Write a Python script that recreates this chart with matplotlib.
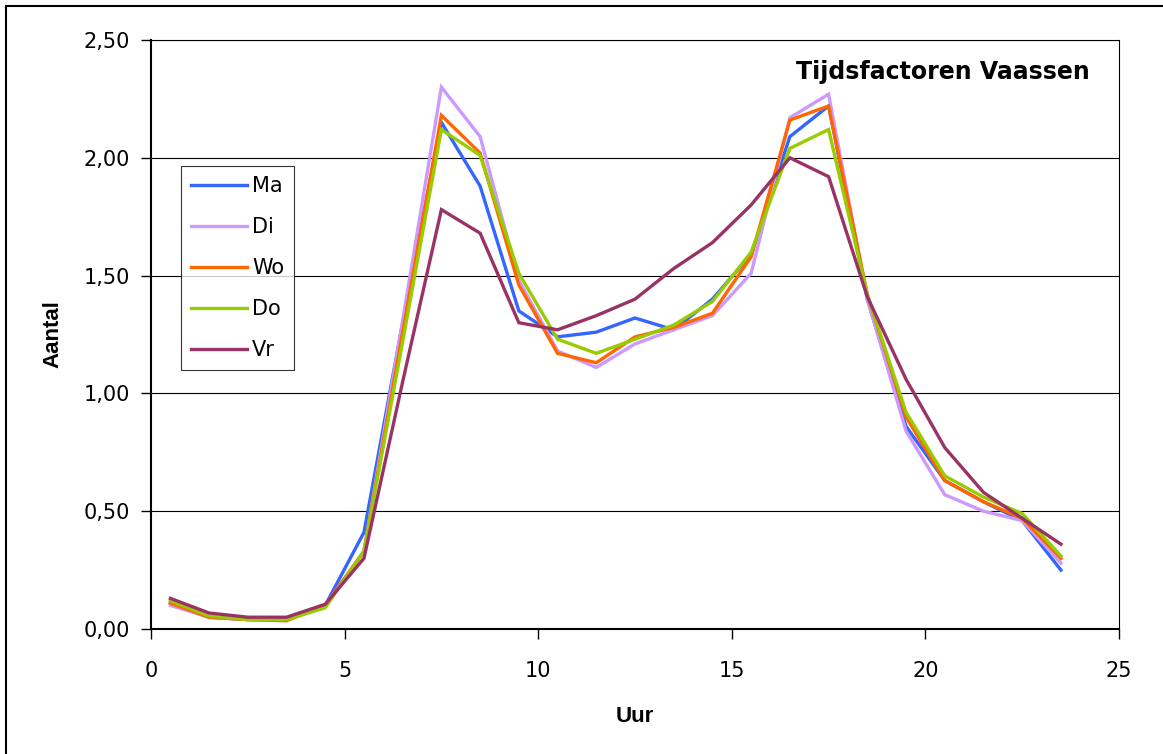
import matplotlib
matplotlib.use("Agg")
import matplotlib.pyplot as plt
from matplotlib.patches import Rectangle
from matplotlib.ticker import FuncFormatter, MultipleLocator

# Hour midpoints and the time factors per weekday
hours = [h + 0.5 for h in range(24)]
ma = [0.11, 0.05, 0.04, 0.04, 0.10, 0.41, 1.30, 2.15, 1.88, 1.35, 1.24, 1.26,
      1.32, 1.27, 1.40, 1.59, 2.09, 2.22, 1.40, 0.86, 0.63, 0.54, 0.46, 0.25]
di = [0.10, 0.05, 0.04, 0.04, 0.10, 0.33, 1.31, 2.30, 2.09, 1.48, 1.18, 1.11,
      1.21, 1.27, 1.33, 1.51, 2.17, 2.27, 1.40, 0.84, 0.57, 0.50, 0.46, 0.28]
wo = [0.11, 0.05, 0.04, 0.035, 0.10, 0.33, 1.26, 2.18, 2.02, 1.46, 1.17, 1.13,
      1.24, 1.28, 1.34, 1.58, 2.16, 2.22, 1.42, 0.90, 0.63, 0.54, 0.47, 0.30]
do = [0.12, 0.055, 0.04, 0.04, 0.09, 0.33, 1.22, 2.12, 2.01, 1.51, 1.23, 1.17,
      1.23, 1.29, 1.39, 1.60, 2.04, 2.12, 1.42, 0.92, 0.65, 0.56, 0.49, 0.31]
vr = [0.13, 0.068, 0.05, 0.05, 0.105, 0.30, 1.05, 1.78, 1.68, 1.30, 1.27, 1.33,
      1.40, 1.53, 1.64, 1.80, 2.00, 1.92, 1.41, 1.06, 0.77, 0.58, 0.47, 0.36]

series = [("Ma", ma, "#3366FF"), ("Di", di, "#CC99FF"), ("Wo", wo, "#FF6600"),
          ("Do", do, "#99CC00"), ("Vr", vr, "#993366")]

fig = plt.figure(figsize=(11.63, 7.54), dpi=100)
ax = fig.add_axes([151 / 1163, 125 / 754, 968 / 1163, 589 / 754])

for name, vals, col in series:
    ax.plot(hours, vals, color=col, linewidth=2.4, label=name, solid_joinstyle="miter")

ax.set_xlim(0, 25)
ax.set_ylim(0, 2.5)
ax.xaxis.set_major_locator(MultipleLocator(5))
ax.yaxis.set_major_locator(MultipleLocator(0.5))
ax.yaxis.set_major_formatter(FuncFormatter(lambda v, p: f"{v:.2f}".replace(".", ",")))
ax.grid(axis="y", color="black", linewidth=0.8)
ax.set_axisbelow(True)
ax.tick_params(direction="out", length=7, width=1, labelsize=15, color="black")
ax.tick_params(axis="x", pad=16)
ax.tick_params(axis="y", pad=8)

for s in ["left", "bottom"]:
    ax.spines[s].set_linewidth(1.5)
for s in ["top", "right"]:
    ax.spines[s].set_linewidth(0.8)

ax.set_xlabel("Uur", fontsize=16, fontweight="bold", family="Liberation Sans", labelpad=18)
ax.set_ylabel("Aantal", fontsize=16, fontweight="bold", family="Liberation Sans", labelpad=15)

ax.text(0.97, 0.945, "Tijdsfactoren Vaassen", transform=ax.transAxes, ha="right", va="center",
        fontsize=17, fontweight="bold")

leg = ax.legend(loc="upper left", bbox_to_anchor=(0.031, 0.786), fontsize=15, frameon=True,
                fancybox=False, edgecolor="black", borderaxespad=0, handlelength=2.65,
                handletextpad=0.25, labelspacing=1.0, borderpad=0.5)
leg.get_frame().set_linewidth(0.8)

# outer chart border (left/top visible, others cropped in reference)
fig.patches.append(Rectangle((6 / 1163, -0.05), 1.2, 1.05 - 6 / 754,
                             transform=fig.transFigure, fill=False, edgecolor="black",
                             linewidth=1.5, clip_on=False))

fig.savefig("out.png", dpi=100)
